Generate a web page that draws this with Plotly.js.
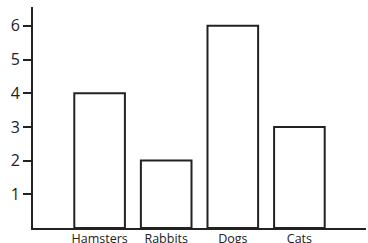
<!DOCTYPE html>
<html><head><meta charset="utf-8">
<script src="https://cdn.plot.ly/plotly-3.0.1.min.js"></script>
<style>html,body{margin:0;padding:0;background:#fff}</style>
</head><body>
<div id="chart" style="width:368px;height:243px"></div>
<script>
const categories = ["Hamsters", "Rabbits", "Dogs", "Cats"];
const counts = [4, 2, 6, 3];
const yTickVals = [1, 2, 3, 4, 5, 6];

const data = [{
  type: "bar",
  x: [0, 1, 2, 3],
  y: counts,
  width: 0.76,
  marker: {color: "#ffffff", line: {color: "#222222", width: 2}},
  hoverinfo: "none"
}];

const layout = {
  width: 368, height: 243,
  margin: {l: 33, r: 2, t: 7, b: 15},
  paper_bgcolor: "#ffffff", plot_bgcolor: "#ffffff",
  showlegend: false,
  font: {family: "Open Sans, sans-serif", color: "#222222"},
  xaxis: {
    range: [-1, 4],
    tickmode: "array",
    tickvals: [0, 1, 2, 3],
    ticktext: categories,
    ticks: "",
    ticklabelstandoff: -2,
    showgrid: false, zeroline: false,
    showline: true, linecolor: "#222222", linewidth: 2,
    tickfont: {size: 12.5, color: "#222222"},
    fixedrange: true
  },
  yaxis: {
    range: [0, 6.56],
    tickmode: "array",
    tickvals: yTickVals,
    ticks: "outside", ticklen: 8, tickwidth: 2, tickcolor: "#222222",
    showgrid: false, zeroline: false,
    showline: true, linecolor: "#222222", linewidth: 2,
    tickfont: {size: 16, color: "#222222", weight: 500},
    fixedrange: true
  }
};

Plotly.newPlot("chart", data, layout, {displayModeBar: false, staticPlot: true});
</script>
</body></html>
